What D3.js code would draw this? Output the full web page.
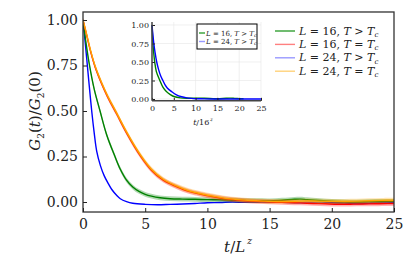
<!DOCTYPE html>
<html>
<head>
<meta charset="utf-8">
<script src="https://cdn.jsdelivr.net/npm/d3@7"></script>
<style>
  body { margin: 0; background: #fff; }
  svg text { font-family: "DejaVu Serif", "Liberation Serif", "Times New Roman", serif; fill: #222; }
</style>
</head>
<body>
<svg id="chart" width="407" height="271"></svg>
<script>
// main plot series (t / L^z, G2(t)/G2(0))
var blueT = [0, 0.2, 0.35, 0.5, 0.7, 0.9, 1.1, 1.4, 1.7, 2.0, 2.3, 2.7, 3.0, 3.5, 4, 5, 6, 7, 8, 9, 10, 11, 12, 13, 14, 15, 16, 17, 18, 19, 20, 21, 22, 23, 24, 25]
var blueV = [1, 0.86, 0.75, 0.64, 0.5, 0.38, 0.28, 0.2, 0.145, 0.105, 0.07, 0.037, 0.018, 0.002, -0.007, -0.013, -0.015, -0.013, -0.011, -0.008, -0.004, -0.003, 0.0, -0.002, -0.001, 0.0, -0.002, -0.004, -0.005, -0.006, -0.004, -0.006, -0.008, -0.006, -0.005, -0.004]

var greenT = [0, 0.25, 0.5, 0.9, 1.37, 1.9, 2.57, 3.0, 3.5, 4.0, 4.5, 5, 5.5, 6.2, 7, 8, 9, 10, 11, 12, 13, 14, 15, 16, 17, 17.5, 18, 19, 20, 21, 22, 23, 24, 25]
var greenV = [1, 0.87, 0.76, 0.62, 0.5, 0.37, 0.25, 0.18, 0.12, 0.082, 0.058, 0.042, 0.032, 0.023, 0.018, 0.016, 0.015, 0.013, 0.012, 0.01, 0.008, 0.007, 0.006, 0.01, 0.015, 0.016, 0.013, 0.008, 0.004, 0.001, 0.0, 0.002, 0.003, 0.004]

var redT = [0, 0.3, 0.6, 0.96, 1.5, 2.0, 2.7, 3.5, 4.6, 5.5, 6.45, 7.5, 8.5, 9.4, 10.5, 11.5, 12.5, 13.5, 14.5, 15.5, 16.5, 17.5, 18.5, 19.5, 20.5, 21.5, 22.5, 23.5, 24.5, 25]
var redV = [1, 0.915, 0.83, 0.745, 0.65, 0.575, 0.485, 0.38, 0.255, 0.175, 0.12, 0.085, 0.058, 0.043, 0.028, 0.017, 0.01, 0.005, 0.002, -0.001, -0.003, -0.005, -0.008, -0.01, -0.012, -0.012, -0.011, -0.01, -0.009, -0.009]

var orangeT = [0, 0.3, 0.6, 0.96, 1.5, 2.0, 2.7, 3.5, 4.6, 5.5, 6.45, 7.5, 8.5, 9.4, 10.5, 11.5, 12.5, 13.5, 14.5, 15.6, 17, 18, 19, 20, 21, 22, 23, 24, 25]
var orangeV = [1, 0.92, 0.835, 0.75, 0.655, 0.58, 0.49, 0.385, 0.26, 0.18, 0.125, 0.088, 0.062, 0.047, 0.032, 0.02, 0.013, 0.008, 0.005, 0.003, 0.004, 0.006, 0.005, 0.004, 0.004, 0.005, 0.007, 0.009, 0.01]

// inset series (t / 16^z)
var insetBlueT = [0, 0.2, 0.4, 0.7, 1.08, 1.5, 2.0, 2.5, 3.0, 3.5, 4.5, 5.5, 6.8, 8, 9, 10, 12, 15, 18, 20, 22, 25]
var insetBlueV = [1, 0.87, 0.76, 0.63, 0.5, 0.4, 0.31, 0.25, 0.19, 0.15, 0.1, 0.06, 0.03, 0.015, 0.008, 0.004, 0.002, 0.0, 0.001, 0.0, 0.001, 0.0]
var insetGreenT = [0, 0.1, 0.2, 0.4, 0.62, 1.0, 1.8, 2.5, 3.3, 4.2, 5.2, 6.5, 8, 10, 12, 14, 15, 17, 18, 19, 20, 21]
var insetGreenV = [1, 0.87, 0.76, 0.62, 0.5, 0.37, 0.25, 0.16, 0.1, 0.06, 0.03, 0.015, 0.01, 0.012, 0.01, 0.005, 0.003, 0.01, 0.012, 0.008, 0.005, 0.003]

var xTicks = [0, 5, 10, 15, 20, 25]
var yTicks = [0, 0.25, 0.5, 0.75, 1]
var legendLabels = [["16", ">"], ["16", "="], ["24", ">"], ["24", "="]]
var insetLabels = [["16", ">"], ["24", ">"]]

const serif = '"DejaVu Serif", "Liberation Serif", serif'

function zip(ts, vs) {
    return ts.map((t, i) => ({t: t, v: vs[i]}))
}

const svg = d3.select("#chart")

// ---------- main axes ----------
var x = d3.scaleLinear().domain([0, 25]).range([83, 394])
var y = d3.scaleLinear().domain([0, 1]).range([202, 20])
const yLo = -0.055, yHi = 1.044

svg.append("clipPath").attr("id", "mainclip")
    .append("rect")
    .attr("x", x(0)).attr("y", y(yHi))
    .attr("width", x(25) - x(0)).attr("height", y(yLo) - y(yHi))

var smooth = d3.curveCatmullRom.alpha(0.5)
var lineGen = d3.line().x(d => x(d.t)).y(d => y(d.v)).curve(smooth)
var bandGen = d3.area().x(d => x(d.t))
    .y0(d => y(d.v - 0.013)).y1(d => y(d.v + 0.013))
    .curve(smooth)

var plot = svg.append("g").attr("clip-path", "url(#mainclip)")

var series = [
    {data: zip(blueT, blueV), color: "#0000ff", band: false},
    {data: zip(greenT, greenV), color: "#008000", band: true},
    {data: zip(redT, redV), color: "#ff0000", band: true},
    {data: zip(orangeT, orangeV), color: "#ffa500", band: true}
]

series.forEach(s => {
    if (s.band) {
        plot.append("path").datum(s.data)
            .attr("d", bandGen)
            .style("fill", s.color)
            .style("opacity", 0.3)
    }
    plot.append("path").datum(s.data)
        .attr("d", lineGen)
        .style("fill", "none")
        .style("stroke", s.color)
        .style("stroke-width", 1.4)
})

// frame
svg.append("rect")
    .attr("x", x(0)).attr("y", y(yHi))
    .attr("width", x(25) - x(0)).attr("height", y(yLo) - y(yHi))
    .style("fill", "none").style("stroke", "#333").style("stroke-width", 1.3)

var xAxis = svg.append("g")
    .attr("transform", "translate(0," + y(yLo) + ")")
    .call(d3.axisBottom(x).tickValues(xTicks).tickSize(-4).tickPadding(7).tickFormat(d3.format("d")))
var yAxis = svg.append("g")
    .attr("transform", "translate(" + x(0) + ",0)")
    .call(d3.axisLeft(y).tickValues(yTicks).tickSize(-4).tickPadding(5).tickFormat(d3.format(".2f")))

;[xAxis, yAxis].forEach(a => {
    a.attr("font-family", null).attr("font-size", null)
    a.select(".domain").remove()
    a.selectAll(".tick line").style("stroke", "#222")
    a.selectAll(".tick text").style("font-size", "14px").style("font-family", serif).style("fill", "#222")
})

// axis titles
var xt = svg.append("text").attr("x", 238).attr("y", 252)
    .attr("text-anchor", "middle").style("font-size", "15px").style("font-family", serif)
xt.append("tspan").style("font-style", "italic").text("t")
xt.append("tspan").text("/")
xt.append("tspan").style("font-style", "italic").text("L")
xt.append("tspan").style("font-style", "italic").style("font-size", "9px").attr("dy", -8).attr("dx", 2).text("z")

var yt = svg.append("text")
    .attr("transform", "translate(40,111) rotate(-90)")
    .attr("text-anchor", "middle").style("font-size", "15px").style("font-family", serif)
yt.append("tspan").style("font-style", "italic").text("G")
yt.append("tspan").style("font-size", "9px").attr("dy", 4).text("2")
yt.append("tspan").attr("dy", -4).text("(")
yt.append("tspan").style("font-style", "italic").text("t")
yt.append("tspan").text(")/")
yt.append("tspan").style("font-style", "italic").text("G")
yt.append("tspan").style("font-size", "9px").attr("dy", 4).text("2")
yt.append("tspan").attr("dy", -4).text("(0)")

// ---------- main legend ----------
var legendColors = ["#33a033", "#ff8080", "#9999ff", "#ffd27a"]
function legendText(sel, lab, size) {
    var sub = Math.round(size * 0.65)
    sel.append("tspan").style("font-style", "italic").text("L")
    sel.append("tspan").text(" = " + lab[0] + ", ")
    sel.append("tspan").style("font-style", "italic").text("T")
    sel.append("tspan").text(lab[1] === ">" ? " > " : " = ")
    sel.append("tspan").style("font-style", "italic").text("T")
    sel.append("tspan").style("font-style", "italic").style("font-size", sub + "px").attr("dy", size * 0.2).text("c")
}

var leg = svg.append("g")
legendLabels.forEach((lab, i) => {
    var ly = 31 + i * 13.4
    leg.append("line").attr("x1", 275).attr("x2", 295).attr("y1", ly).attr("y2", ly)
        .style("stroke", legendColors[i]).style("stroke-width", 1.4)
    var t = leg.append("text").attr("x", 299).attr("y", ly + 3.5)
        .style("font-size", "11px").style("font-family", serif)
    legendText(t, lab, 11)
})

// ---------- inset ----------
var ix = d3.scaleLinear().domain([0, 25]).range([152, 261])
var iy = d3.scaleLinear().domain([0, 1]).range([99, 25])
const iyLo = -0.025, iyHi = 1.04

var inset = svg.append("g")
inset.append("rect")
    .attr("x", ix(0)).attr("y", iy(iyHi))
    .attr("width", ix(25) - ix(0)).attr("height", iy(iyLo) - iy(iyHi))
    .style("fill", "#fff")

inset.selectAll(".vgrid").data(xTicks).enter().append("line")
    .attr("x1", d => ix(d)).attr("x2", d => ix(d))
    .attr("y1", iy(iyHi)).attr("y2", iy(iyLo))
    .style("stroke", "#e6e6e6").style("stroke-width", 0.6)
inset.selectAll(".hgrid").data(yTicks).enter().append("line")
    .attr("x1", ix(0)).attr("x2", ix(25))
    .attr("y1", d => iy(d)).attr("y2", d => iy(d))
    .style("stroke", "#e6e6e6").style("stroke-width", 0.6)

var iline = d3.line().x(d => ix(d.t)).y(d => iy(d.v)).curve(smooth)
;[{data: zip(insetGreenT, insetGreenV), color: "#008000"},
  {data: zip(insetBlueT, insetBlueV), color: "#0000ff"}].forEach(s => {
    inset.append("path").datum(s.data)
        .attr("d", iline)
        .style("fill", "none").style("stroke", s.color).style("stroke-width", 1.4)
})

var ixAxis = inset.append("g")
    .attr("transform", "translate(0," + iy(iyLo) + ")")
    .call(d3.axisBottom(ix).tickValues(xTicks).tickSize(-3).tickPadding(4).tickFormat(d3.format("d")))
var iyAxis = inset.append("g")
    .attr("transform", "translate(" + ix(0) + ",0)")
    .call(d3.axisLeft(iy).tickValues(yTicks).tickSize(-3).tickPadding(3).tickFormat(d3.format(".2f")))
;[ixAxis, iyAxis].forEach(a => {
    a.attr("font-family", null).attr("font-size", null)
    a.select(".domain").remove()
    a.selectAll(".tick line").style("stroke", "#222")
    a.selectAll(".tick text").style("font-size", "8px").style("font-family", serif).style("fill", "#222")
})
// spines
inset.append("line").attr("x1", ix(0)).attr("x2", ix(0)).attr("y1", iy(iyHi)).attr("y2", iy(iyLo))
    .style("stroke", "#444").style("stroke-width", 1.5)
inset.append("line").attr("x1", ix(0)).attr("x2", ix(25)).attr("y1", iy(iyLo)).attr("y2", iy(iyLo))
    .style("stroke", "#444").style("stroke-width", 1.5)

var ixt = inset.append("text").attr("x", 203).attr("y", 125)
    .attr("text-anchor", "middle").style("font-size", "8px").style("font-family", serif)
ixt.append("tspan").style("font-style", "italic").text("t")
ixt.append("tspan").text("/16")
ixt.append("tspan").style("font-style", "italic").style("font-size", "5px").attr("dy", -4).attr("dx", 1).text("z")

// inset legend
inset.append("rect").attr("x", 197).attr("y", 24).attr("width", 60).attr("height", 25)
    .style("fill", "#fff").style("stroke", "#000").style("stroke-width", 1)
var insetColors = ["#33a033", "#9999ff"]
insetLabels.forEach((lab, i) => {
    var ly = 33 + i * 8.5
    inset.append("line").attr("x1", 199).attr("x2", 205).attr("y1", ly).attr("y2", ly)
        .style("stroke", insetColors[i]).style("stroke-width", 1.4)
    var t = inset.append("text").attr("x", 206).attr("y", ly + 2.5)
        .style("font-size", "7px").style("font-family", serif)
    legendText(t, lab, 7)
})
</script>
</body>
</html>
